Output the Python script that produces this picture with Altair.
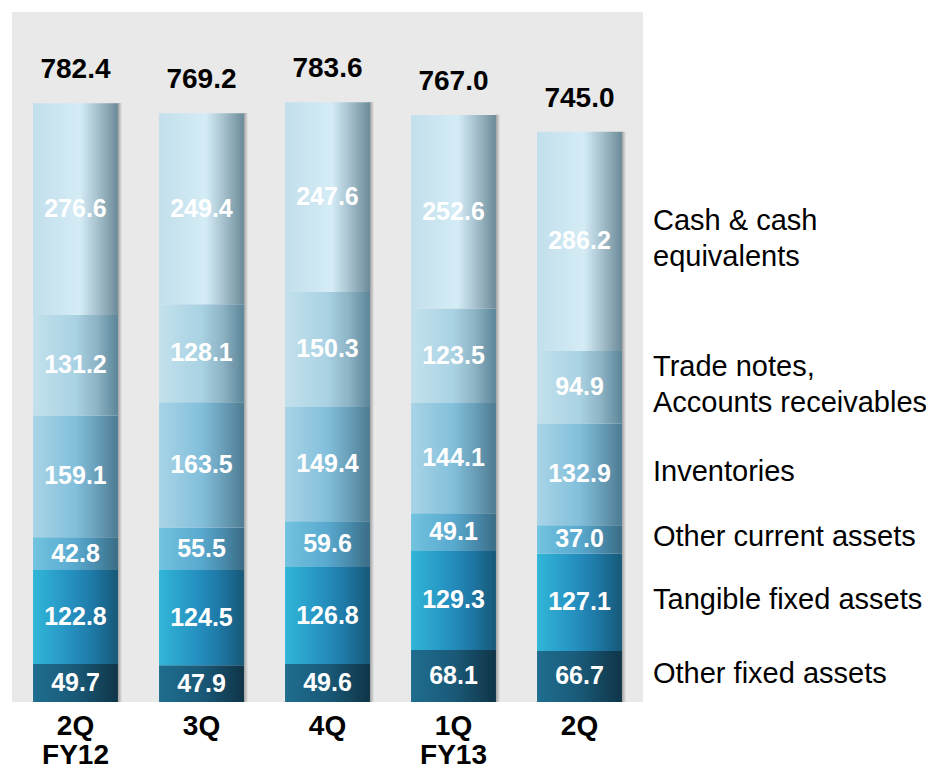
import altair as alt
import pandas as pd

quarter_labels = ["2Q\nFY12", "3Q", "4Q", "1Q\nFY13", "2Q"]
categories = [
    "Other fixed assets",
    "Tangible fixed assets",
    "Other current assets",
    "Inventories",
    "Trade notes, Accounts receivables",
    "Cash & cash equivalents",
]
legend_labels = [
    "Other fixed assets",
    "Tangible fixed assets",
    "Other current assets",
    "Inventories",
    "Trade notes,\nAccounts receivables",
    "Cash & cash\nequivalents",
]
legend_lines = [1, 1, 1, 1, 2, 2]
other_fixed = [49.7, 47.9, 49.6, 68.1, 66.7]
tangible_fixed = [122.8, 124.5, 126.8, 129.3, 127.1]
other_current = [42.8, 55.5, 59.6, 49.1, 37.0]
inventories = [159.1, 163.5, 149.4, 144.1, 132.9]
trade_notes = [131.2, 128.1, 150.3, 123.5, 94.9]
cash = [276.6, 249.4, 247.6, 252.6, 286.2]
totals = [782.4, 769.2, 783.6, 767.0, 745.0]

series = [other_fixed, tangible_fixed, other_current, inventories, trade_notes, cash]

gradients = [
    [("#1f6d8f", 0), ("#1a5a78", 0.5), ("#0f3447", 1)],
    [("#31b6d8", 0), ("#2590c0", 0.45), ("#1e79a6", 0.7), ("#165878", 1)],
    [("#72c3df", 0), ("#58a9ce", 0.5), ("#4a8cad", 0.75), ("#3a6c85", 1)],
    [("#a9d4e6", 0), ("#82bfdb", 0.5), ("#6a9fb9", 0.75), ("#4d7b92", 1)],
    [("#c3e1ed", 0), ("#a9d2e3", 0.5), ("#8db3c4", 0.75), ("#5b8598", 1)],
    [("#c2dfeb", 0), ("#d4ecf6", 0.55), ("#a8c3cf", 0.75), ("#6b8a98", 1)],
]

rows = []
for ci, cat in enumerate(categories):
    for qi in range(len(quarter_labels)):
        rows.append({"idx": qi, "cat": cat, "legend": legend_labels[ci],
                     "nlines": legend_lines[ci],
                     "order": ci, "value": series[ci][qi]})
df = pd.DataFrame(rows)

tot_df = pd.DataFrame({"idx": list(range(len(totals))), "total": totals,
                       "qlabel": quarter_labels})

FONT = "Liberation Sans"
xs = alt.Scale(domain=[-0.5357, 6.75], nice=False, zero=False)
ys = alt.Scale(domain=[-90.1, 906.5], nice=False, zero=False)

bg = alt.Chart(pd.DataFrame({"a": [0]})).mark_rect(color="#e9e9e9").encode(
    x=alt.value(4), x2=alt.value(635), y=alt.value(4), y2=alt.value(694)
)

base = alt.Chart(df).transform_stack(
    stack="value", groupby=["idx"], as_=["y0", "y1"],
    sort=[alt.SortField("order", order="ascending")]
).transform_calculate(
    xl="datum.idx - 0.337", xr="datum.idx + 0.337",
    ym="(datum.y0 + datum.y1) / 2"
)

shadow = alt.Chart(tot_df).transform_calculate(
    xl="datum.idx + 0.337", xr="datum.idx + 0.37", zero="0"
).mark_rect(
    color=alt.LinearGradient(
        gradient="linear", x1=0, x2=1, y1=0, y2=0,
        stops=[alt.GradientStop(color="#a0a0a0", offset=0),
               alt.GradientStop(color="#e9e9e9", offset=1)])
).encode(
    x=alt.X("xl:Q", scale=xs, axis=None), x2="xr:Q",
    y=alt.Y("zero:Q", scale=ys, axis=None), y2="total:Q"
)

layers = [bg, shadow]
for ci in range(len(categories)):
    grad = alt.LinearGradient(
        gradient="linear", x1=0, x2=1, y1=0, y2=0,
        stops=[alt.GradientStop(color=c, offset=o) for c, o in gradients[ci]])
    layers.append(
        base.transform_filter(alt.datum.order == ci).mark_rect(color=grad).encode(
            x=alt.X("xl:Q", scale=xs, axis=None), x2="xr:Q",
            y=alt.Y("y0:Q", scale=ys, axis=None), y2="y1:Q"
        )
    )

seg_text = base.mark_text(
    color="white", font=FONT, fontSize=25, fontWeight="bold", baseline="middle"
).encode(
    x=alt.X("idx:Q", scale=xs, axis=None),
    y=alt.Y("ym:Q", scale=ys, axis=None),
    text=alt.Text("value:Q", format=".1f"),
)

tot_text = alt.Chart(tot_df).mark_text(
    color="black", font=FONT, fontSize=28, fontWeight="bold",
    baseline="alphabetic", dy=-25
).encode(
    x=alt.X("idx:Q", scale=xs, axis=None),
    y=alt.Y("total:Q", scale=ys, axis=None),
    text=alt.Text("total:Q", format=".1f"),
)

x_text = alt.Chart(tot_df).mark_text(
    color="black", font=FONT, fontSize=28, fontWeight="bold",
    baseline="top", lineBreak="\n", lineHeight=29
).encode(
    x=alt.X("idx:Q", scale=xs, axis=None),
    y=alt.value(705),
    text="qlabel:N",
)

legend_base = base.transform_filter(alt.datum.idx == 4)
legend_one = legend_base.transform_filter(alt.datum.nlines == 1).mark_text(
    color="black", font=FONT, fontSize=29, align="left", baseline="middle", dy=-2
).encode(
    x=alt.value(645),
    y=alt.Y("ym:Q", scale=ys, axis=None),
    text="legend:N",
)
legend_two = legend_base.transform_filter(alt.datum.nlines == 2).mark_text(
    color="black", font=FONT, fontSize=29, align="left", baseline="middle",
    lineBreak="\n", lineHeight=36, dy=-20
).encode(
    x=alt.value(645),
    y=alt.Y("ym:Q", scale=ys, axis=None),
    text="legend:N",
)

chart = alt.layer(*layers, seg_text, tot_text, x_text, legend_one, legend_two).properties(
    width=918, height=763, padding=0, autosize="none", background="white"
).configure_view(stroke=None)

chart.save("out.html", embed_options={"renderer": "svg", "actions": False})
